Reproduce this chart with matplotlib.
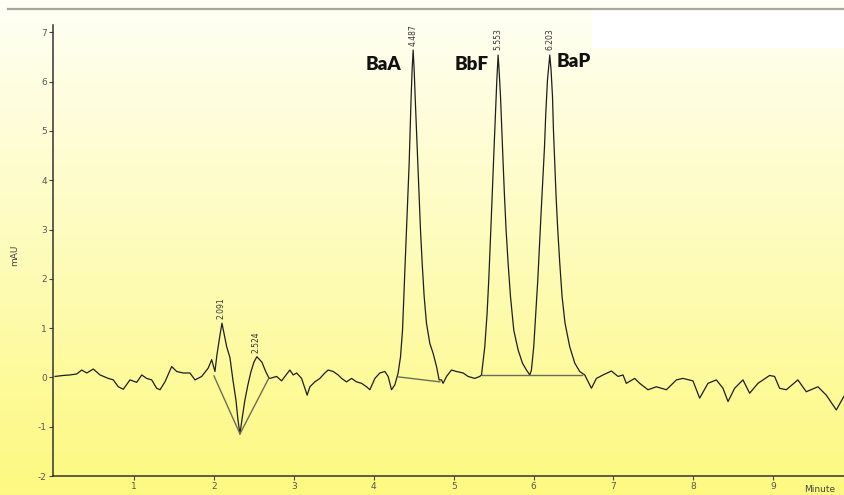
import numpy as np
import matplotlib
matplotlib.use("Agg")
import matplotlib.pyplot as plt
from matplotlib.patches import Rectangle
from matplotlib.lines import Line2D

plt.rcParams["axes.unicode_minus"] = False

# chromatogram trace (minutes, mAU)
time = [0.008, 0.111, 0.195, 0.279, 0.342, 0.404, 0.487, 0.571, 0.675, 0.737,
        0.800, 0.862, 0.946, 1.030, 1.093, 1.155, 1.218, 1.280, 1.322, 1.384,
        1.468, 1.531, 1.613, 1.697, 1.760, 1.844, 1.926, 1.969, 2.010, 2.035,
        2.073, 2.098, 2.156, 2.198, 2.235, 2.273, 2.298, 2.323, 2.348, 2.385,
        2.423, 2.460, 2.498, 2.535, 2.598, 2.648, 2.686, 2.698, 2.782, 2.845,
        2.886, 2.948, 2.990, 3.033, 3.095, 3.136, 3.165, 3.199, 3.261, 3.324,
        3.386, 3.428, 3.491, 3.553, 3.596, 3.658, 3.721, 3.783, 3.846, 3.909,
        3.950, 4.013, 4.075, 4.138, 4.179, 4.221, 4.263,
        # BaA
        4.304, 4.334, 4.359, 4.375, 4.392, 4.409, 4.426, 4.442, 4.454, 4.467,
        4.479, 4.492, 4.505, 4.517, 4.534, 4.551, 4.567, 4.584, 4.605, 4.630,
        4.659, 4.701, 4.742, 4.785, 4.817, 4.847, 4.867, 4.910, 4.972, 5.035,
        5.118, 5.180, 5.264, 5.326,
        # BbF
        5.348, 5.389, 5.418, 5.439, 5.456, 5.473, 5.489, 5.506, 5.523, 5.540,
        5.556, 5.568, 5.586, 5.602, 5.619, 5.636, 5.656, 5.681, 5.711, 5.752,
        5.806, 5.861, 5.911, 5.953,
        # BaP
        5.973, 6.002, 6.027, 6.053, 6.074, 6.094, 6.115, 6.137, 6.153, 6.174,
        6.203, 6.219, 6.237, 6.249, 6.265, 6.282, 6.303, 6.328, 6.357, 6.394,
        6.453, 6.516, 6.578, 6.641,
        6.725, 6.787, 6.870, 6.975, 7.058, 7.120, 7.162, 7.266, 7.329, 7.433,
        7.538, 7.663, 7.789, 7.871, 7.996, 8.080, 8.184, 8.289, 8.372, 8.435,
        8.518, 8.622, 8.706, 8.810, 8.956, 9.018, 9.081, 9.165, 9.310, 9.415,
        9.561, 9.666, 9.791, 9.895]
mau = [0.02, 0.04, 0.05, 0.07, 0.15, 0.09, 0.17, 0.05, -0.02, -0.05,
       -0.19, -0.24, -0.05, -0.10, 0.05, -0.02, -0.05, -0.22, -0.25, -0.09,
       0.22, 0.12, 0.09, 0.09, -0.05, 0.02, 0.19, 0.36, 0.12, 0.46,
       0.86, 1.10, 0.63, 0.40, -0.05, -0.46, -0.86, -1.15, -0.86, -0.46,
       -0.15, 0.11, 0.31, 0.42, 0.31, 0.11, -0.01, -0.02, 0.02, -0.07,
       0.02, 0.15, 0.05, 0.09, -0.02, -0.22, -0.36, -0.19, -0.09, -0.02,
       0.09, 0.15, 0.12, 0.05, -0.02, -0.09, -0.02, -0.09, -0.12, -0.19,
       -0.25, -0.02, 0.09, 0.12, 0.02, -0.25, -0.15,
       0.09, 0.42, 0.96, 1.64, 2.32, 2.99, 3.67, 4.34, 5.02, 5.70,
       6.24, 6.64, 6.24, 5.70, 5.02, 4.34, 3.67, 2.99, 2.32, 1.64,
       1.10, 0.69, 0.49, 0.22, -0.05, -0.05, -0.12, 0.02, 0.15, 0.12,
       0.09, 0.02, -0.02, 0.02,
       0.05, 0.62, 1.30, 1.98, 2.65, 3.33, 4.01, 4.68, 5.36, 6.03,
       6.54, 6.24, 5.70, 5.02, 4.34, 3.67, 2.99, 2.32, 1.64, 0.96,
       0.56, 0.29, 0.15, 0.05,
       0.15, 0.62, 1.30, 1.98, 2.65, 3.33, 4.01, 4.68, 5.36, 6.03,
       6.54, 6.24, 5.70, 5.02, 4.34, 3.67, 2.99, 2.32, 1.64, 1.10,
       0.62, 0.29, 0.12, 0.05,
       -0.22, -0.02, 0.05, 0.13, 0.02, 0.05, -0.12, -0.02, -0.12, -0.25,
       -0.19, -0.25, -0.05, -0.02, -0.07, -0.42, -0.12, -0.05, -0.22, -0.49,
       -0.22, -0.05, -0.32, -0.12, 0.04, 0.02, -0.22, -0.25, -0.05, -0.29,
       -0.19, -0.36, -0.66, -0.36]

# integration baselines
base1_t = [1.998, 2.323, 2.686]
base1_y = [0.03, -1.146, -0.01]
base2_t = [4.311, 4.826]
base2_y = [0.01, -0.09]
base3_t = [5.353, 6.605]
base3_y = [0.05, 0.05]

# retention time labels
peak_t = [2.091, 2.524, 4.487, 5.553, 6.203]
peak_y = [1.10, 0.42, 6.64, 6.56, 6.56]
peak_txt = ["2.091", "2.524", "4.487", "5.553", "6.203"]

# compound names
comp_names = ["BaA", "BbF", "BaP"]
comp_t = [4.487, 5.553, 6.203]

fig = plt.figure(figsize=(8.45, 4.95), dpi=100)

# background gradient: near white at top, yellow at bottom
bg = fig.add_axes([0, 0, 1, 1], zorder=0)
top_c = np.array([255, 255, 246]) / 255
bot_c = np.array([253, 249, 128]) / 255
frac = np.linspace(0, 1, 256)[:, None]
grad = top_c[None, :] * (1 - frac) + bot_c[None, :] * frac
bg.imshow(grad[:, None, :], aspect="auto", extent=[0, 1, 0, 1], origin="upper")
bg.set_xlim(0, 1)
bg.set_ylim(0, 1)
bg.axis("off")
bg.add_patch(Rectangle((592 / 845, 1 - 48 / 495), 253 / 845, 38 / 495,
                       facecolor="white", edgecolor="none"))
bg.add_line(Line2D([8 / 845, 1], [1 - 9 / 495, 1 - 9 / 495], color="#a8a898", lw=1.6))

ax = fig.add_axes([53 / 845, 1 - 476 / 495, 1 - 53 / 845, (476 - 25) / 495], zorder=1)
ax.patch.set_alpha(0)

ax.plot(time, mau, color="#1e1e1e", lw=0.9)
for bt, by in [(base1_t, base1_y), (base2_t, base2_y), (base3_t, base3_y)]:
    ax.plot(bt, by, color="#6e6e58", lw=1.0)

for t, y, s in zip(peak_t, peak_y, peak_txt):
    ax.text(t, y + 0.08, s, rotation=90, ha="center", va="bottom",
            fontsize=5.5, color="#333333")

offsets = [(-0.37, 6.34), (-0.33, 6.34), (0.30, 6.40)]
for name, t, (dx, y) in zip(comp_names, comp_t, offsets):
    ax.text(t + dx, y, name, ha="center", va="center", fontsize=13.5,
            fontweight="heavy", family="Lato", color="#111111")

ax.set_xlim(-0.018, 9.9)
ax.set_ylim(-2, 7.15)
ax.set_xticks(range(1, 10))
ax.set_yticks(range(-2, 8))
ax.tick_params(axis="both", direction="out", length=3, width=0.8,
               labelsize=6.5, labelcolor="#555555", color="#444444", pad=1.5)
for side in ["top", "right"]:
    ax.spines[side].set_visible(False)
for side in ["left", "bottom"]:
    ax.spines[side].set_color("#333333")
    ax.spines[side].set_linewidth(1.1)

fig.text(15 / 845, 1 - 255 / 495, "mAU", rotation=90, ha="center", va="center",
         fontsize=6.5, color="#444444")
fig.text(820 / 845, 1 - 490 / 495, "Minute", ha="center", va="center",
         fontsize=6.5, color="#444444")

fig.savefig("out.png", dpi=100)
